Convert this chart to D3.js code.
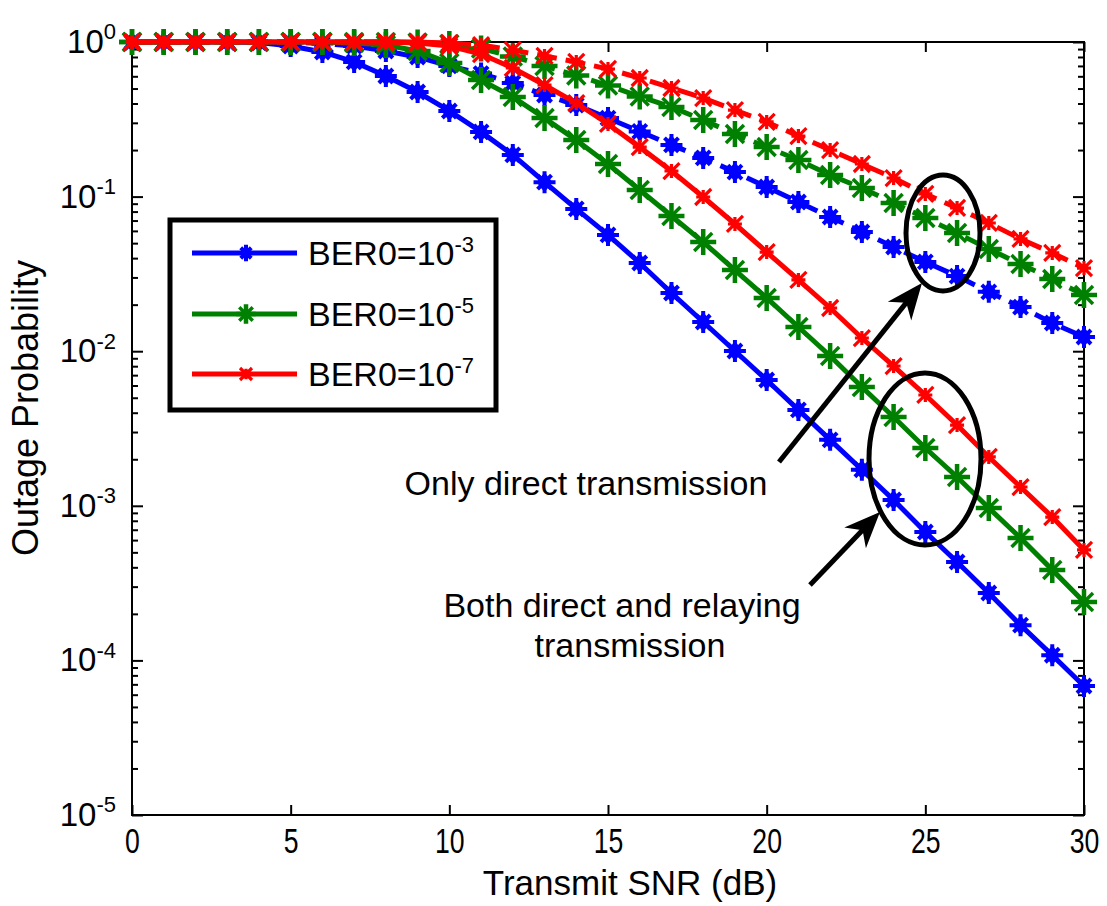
<!DOCTYPE html>
<html>
<head>
<meta charset="utf-8">
<script src="https://cdn.jsdelivr.net/npm/d3@7"></script>
<style>
  body { margin: 0; background: #fff; }
  text { font-family: "Liberation Sans", Arial, sans-serif; fill: #000; }
</style>
</head>
<body>
<svg id="chart" width="1107" height="906"></svg>
<script>
// Transmit SNR (dB)
var snr = [0,1,2,3,4,5,6,7,8,9,10,11,12,13,14,15,16,17,18,19,20,21,22,23,24,25,26,27,28,29,30];

// outage probability, both direct and relaying transmission
var relay3 = [1,1,1,1,0.993,0.942,0.862,0.743,0.603,0.475,0.358,0.262,0.186,0.124,0.0832,0.0565,0.0372,0.0238,0.01545,0.01003,0.00651,0.00417,0.00267,0.00171,0.00109,0.000677,0.000433,0.000273,0.000169,0.000108,0.0000683];
var relay5 = [1,1,1,1,1,1,1,0.985,0.956,0.875,0.731,0.568,0.441,0.322,0.232,0.1625,0.1103,0.0749,0.0508,0.0335,0.0221,0.01434,0.00931,0.00587,0.00375,0.002366,0.001536,0.000968,0.000619,0.000385,0.000239];
var relay7 = [1,1,1,1,1,1,1,1,1,0.985,0.942,0.836,0.679,0.527,0.403,0.295,0.209,0.1464,0.0994,0.0665,0.0438,0.0289,0.01903,0.01217,0.00802,0.00521,0.00333,0.00207,0.001323,0.000846,0.000518];

// outage probability, only direct transmission
var direct3 = [1,1,1,1,1,1,0.978,0.942,0.875,0.800,0.700,0.625,0.543,0.454,0.391,0.322,0.264,0.216,0.178,0.144,0.1154,0.0923,0.0738,0.0590,0.0472,0.0378,0.0306,0.0242,0.0193,0.01522,0.01236];
var direct5 = [1,1,1,1,1,1,1,1,1,0.993,0.971,0.908,0.806,0.700,0.607,0.523,0.444,0.380,0.313,0.254,0.209,0.1725,0.138,0.1137,0.0909,0.0727,0.0581,0.0458,0.0366,0.0293,0.0231];
var direct7 = [1,1,1,1,1,1,1,1,1,1,0.985,0.956,0.888,0.812,0.743,0.669,0.585,0.504,0.434,0.363,0.304,0.2465,0.200,0.1625,0.1319,0.104,0.0844,0.0675,0.0532,0.0432,0.0345];

var xTicks = [0,5,10,15,20,25,30];
var yExponents = [0,-1,-2,-3,-4,-5];
var legendExponents = ["-3","-5","-7"];
var colors = ["#0000ff", "#008000", "#ff0000"];

var series = [
  { values: relay3,  color: colors[0], dashed: false, marker: "blue" },
  { values: direct3, color: colors[0], dashed: true,  marker: "blue" },
  { values: relay5,  color: colors[1], dashed: false, marker: "green" },
  { values: direct5, color: colors[1], dashed: true,  marker: "green" },
  { values: relay7,  color: colors[2], dashed: false, marker: "red" },
  { values: direct7, color: colors[2], dashed: true,  marker: "red" }
];

var plotLeft = 132, plotRight = 1084, plotTop = 42, plotBottom = 815;

var svg = d3.select("#chart");

var x = d3.scaleLinear().domain([0, 30]).range([plotLeft, plotRight]);
var y = d3.scaleLog().domain([1e-5, 1]).range([plotBottom, plotTop]);

// marker drawing
function drawMarker(g, type, s, color) {
    s = s || 1;
    if (type === "blue") {
        g.append("path")
            .attr("d", "M0," + (-10*s) + "L" + (8*s) + ",0L0," + (10*s) + "L" + (-8*s) + ",0Z")
            .attr("fill", color);
        g.append("path")
            .attr("d", "M" + (-11*s) + ",0H" + (11*s) + "M0," + (-11*s) + "V" + (11*s) +
                       "M" + (-7*s) + "," + (-7*s) + "L" + (7*s) + "," + (7*s) +
                       "M" + (-7*s) + "," + (7*s) + "L" + (7*s) + "," + (-7*s))
            .attr("stroke", color).attr("stroke-width", 4).attr("fill", "none");
    } else if (type === "green") {
        g.append("path")
            .attr("d", "M" + (-13*s) + ",0H" + (13*s) + "M0," + (-13*s) + "V" + (13*s))
            .attr("stroke", color).attr("stroke-width", 4.5).attr("fill", "none");
        g.append("path")
            .attr("d", "M" + (-9*s) + "," + (-9*s) + "L" + (9*s) + "," + (9*s) +
                       "M" + (-9*s) + "," + (9*s) + "L" + (9*s) + "," + (-9*s))
            .attr("stroke", color).attr("stroke-width", 3.5).attr("fill", "none");
    } else {
        g.append("path")
            .attr("d", "M" + (-8*s) + "," + (-8*s) + "L" + (8*s) + "," + (8*s) +
                       "M" + (-8*s) + "," + (8*s) + "L" + (8*s) + "," + (-8*s) +
                       "M" + (-7*s) + ",0H" + (7*s) + "M0," + (-7*s) + "V" + (7*s))
            .attr("stroke", color).attr("stroke-width", 3.2).attr("fill", "none");
    }
}

// axes and frame
var minorVals = [];
yExponents.forEach(function(e) {
    if (e > -5) {
        for (var m = 2; m <= 9; m++) minorVals.push(m * Math.pow(10, e - 1));
    }
});
var majorVals = yExponents.map(function(e) { return Math.pow(10, e); });

var xb = svg.append("g")
    .attr("transform", "translate(0," + plotBottom + ")")
    .call(d3.axisBottom(x).tickValues(xTicks).tickSize(-10).tickPadding(14));
xb.selectAll("text")
    .style("font-size", "36px")
    .attr("dy", "0.68em")
    .attr("transform", "scale(0.74,1)");

svg.append("g")
    .attr("transform", "translate(0," + plotTop + ")")
    .call(d3.axisTop(x).tickValues(xTicks).tickSize(-10).tickFormat(""));

var yl = svg.append("g")
    .attr("transform", "translate(" + plotLeft + ",0)")
    .call(d3.axisLeft(y).tickValues(majorVals).tickSize(-11).tickPadding(16));
yl.selectAll("text")
    .style("font-size", "33px")
    .each(function(d) {
        var t = d3.select(this);
        var e = Math.round(Math.log10(d));
        t.text(null);
        t.append("tspan").text("10");
        t.append("tspan").attr("dy", "-0.62em").style("font-size", "22px").text(e);
    });

svg.append("g")
    .attr("transform", "translate(" + plotLeft + ",0)")
    .call(d3.axisLeft(y).tickValues(minorVals).tickSize(-6).tickFormat(""));

svg.append("g")
    .attr("transform", "translate(" + plotRight + ",0)")
    .call(d3.axisRight(y).tickValues(majorVals).tickSize(-11).tickFormat(""));

svg.append("g")
    .attr("transform", "translate(" + plotRight + ",0)")
    .call(d3.axisRight(y).tickValues(minorVals).tickSize(-6).tickFormat(""));

svg.selectAll(".domain").remove();
svg.selectAll(".tick line").attr("stroke", "#000").attr("stroke-width", 2);

svg.append("rect")
    .attr("x", plotLeft).attr("y", plotTop)
    .attr("width", plotRight - plotLeft).attr("height", plotBottom - plotTop)
    .attr("fill", "none").attr("stroke", "#000").attr("stroke-width", 2);

// axis titles
svg.append("text")
    .attr("x", 630).attr("y", 895)
    .attr("text-anchor", "middle")
    .style("font-size", "35px")
    .text("Transmit SNR (dB)");

svg.append("text")
    .attr("transform", "translate(38,408) rotate(-90)")
    .attr("text-anchor", "middle")
    .style("font-size", "36px")
    .text("Outage Probability");

// curves
var line = d3.line()
    .x(function(d, i) { return x(snr[i]); })
    .y(function(d) { return y(d); });

series.forEach(function(s) {
    var g = svg.append("g");
    g.append("path")
        .attr("d", line(s.values))
        .attr("fill", "none")
        .attr("stroke", s.color)
        .attr("stroke-width", 5)
        .attr("stroke-dasharray", s.dashed ? "20,9" : null);
    s.values.forEach(function(v, i) {
        var m = g.append("g").attr("transform", "translate(" + x(snr[i]) + "," + y(v) + ")");
        drawMarker(m, s.marker, 1, s.color);
    });
});

// legend
var lg = svg.append("g");
lg.append("rect")
    .attr("x", 170).attr("y", 220).attr("width", 326).attr("height", 190)
    .attr("fill", "#fff").attr("stroke", "#000").attr("stroke-width", 5);

var legendY = [253, 314, 374];
var legendMarkers = ["blue", "green", "red"];
legendExponents.forEach(function(e, i) {
    lg.append("line")
        .attr("x1", 192).attr("x2", 297)
        .attr("y1", legendY[i]).attr("y2", legendY[i])
        .attr("stroke", colors[i]).attr("stroke-width", 5);
    var m = lg.append("g").attr("transform", "translate(246," + legendY[i] + ")");
    drawMarker(m, legendMarkers[i], 0.75, colors[i]);
    var t = lg.append("text")
        .attr("x", 308).attr("y", legendY[i] + 12)
        .style("font-size", "34px");
    t.append("tspan").text("BER0=10");
    t.append("tspan").attr("dy", "-0.6em").style("font-size", "22px").text(e);
});

// annotations
var ann = svg.append("g").attr("fill", "none").attr("stroke", "#000").attr("stroke-width", 5);
ann.append("ellipse").attr("cx", 943).attr("cy", 233).attr("rx", 37).attr("ry", 58);
ann.append("ellipse").attr("cx", 925).attr("cy", 459).attr("rx", 56).attr("ry", 86);

function arrow(x1, y1, x2, y2) {
    var dx = x2 - x1, dy = y2 - y1, len = Math.sqrt(dx*dx + dy*dy);
    var ux = dx / len, uy = dy / len, px = -uy, py = ux;
    var L = 36, W = 15;
    ann.append("line")
        .attr("x1", x1).attr("y1", y1)
        .attr("x2", x2 - ux * L * 0.6).attr("y2", y2 - uy * L * 0.6);
    var pts = [
        [x2, y2],
        [x2 - ux*L + px*W, y2 - uy*L + py*W],
        [x2 - ux*L*0.7, y2 - uy*L*0.7],
        [x2 - ux*L - px*W, y2 - uy*L - py*W]
    ];
    svg.append("polygon")
        .attr("points", pts.map(function(p) { return p.join(","); }).join(" "))
        .attr("fill", "#000");
}
arrow(779, 462, 922, 283);
arrow(810, 585, 880, 512);

svg.append("text")
    .attr("x", 586).attr("y", 495)
    .attr("text-anchor", "middle")
    .style("font-size", "34px")
    .text("Only direct transmission");
svg.append("text")
    .attr("x", 622).attr("y", 617)
    .attr("text-anchor", "middle")
    .style("font-size", "34px")
    .text("Both direct and relaying");
svg.append("text")
    .attr("x", 630).attr("y", 657)
    .attr("text-anchor", "middle")
    .style("font-size", "34px")
    .text("transmission");
</script>
</body>
</html>
